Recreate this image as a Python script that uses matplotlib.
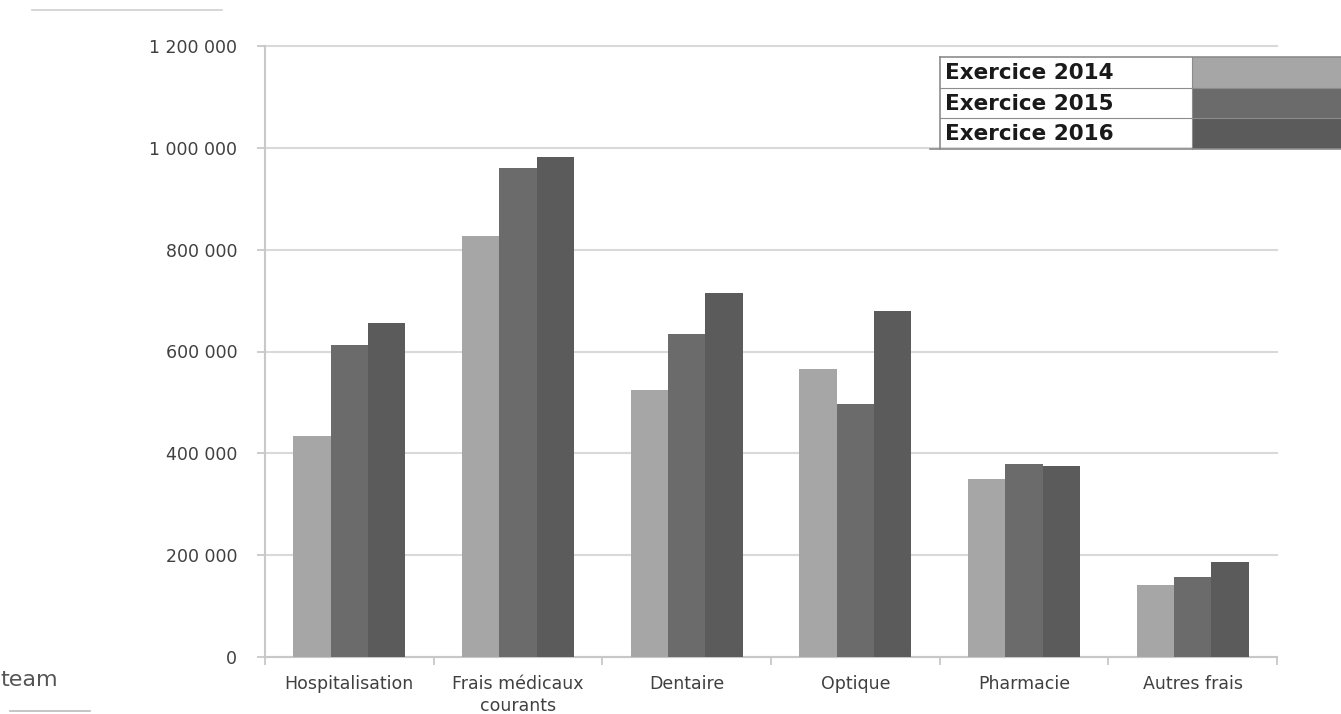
import numpy as np
import matplotlib.pyplot as plt
from matplotlib.patches import Rectangle
from matplotlib.lines import Line2D
from matplotlib.ticker import FuncFormatter, FixedLocator, NullFormatter

categories = ['Hospitalisation', 'Frais médicaux\ncourants', 'Dentaire',
              'Optique', 'Pharmacie', 'Autres frais']
series_names = ['Exercice 2014', 'Exercice 2015', 'Exercice 2016']
vals_2014 = [434000, 826000, 525000, 565000, 350000, 142000]
vals_2015 = [612000, 960000, 634000, 496000, 380000, 158000]
vals_2016 = [656000, 982000, 714000, 680000, 376000, 186000]
colors = ['#a6a6a6', '#6b6b6b', '#5b5b5b']

W, H = 1341, 714
fig = plt.figure(figsize=(W / 100, H / 100), dpi=100)
ax = fig.add_axes([265 / W, 1 - 657 / H, (1277 - 265) / W, (657 - 46) / H])

x = np.arange(len(categories))
bw = 0.222
for i, vals in enumerate([vals_2014, vals_2015, vals_2016]):
    ax.bar(x + (i - 1) * bw, vals, width=bw, color=colors[i], zorder=3,
           linewidth=0)

ax.set_xlim(-0.5, len(categories) - 0.5)
ax.set_ylim(0, 1200000)
ax.set_yticks(np.arange(0, 1200001, 200000))
ax.yaxis.set_major_formatter(FuncFormatter(lambda v, p: f'{int(v):,}'.replace(',', ' ')))
ax.grid(axis='y', color='#d9d9d9', linewidth=1.5, zorder=0)
for gl in ax.get_ygridlines():
    gl.set_clip_on(False)

# category labels centred, tick marks on the boundaries
ax.xaxis.set_major_locator(FixedLocator(np.arange(-0.5, len(categories), 1)))
ax.xaxis.set_major_formatter(NullFormatter())
ax.xaxis.set_minor_locator(FixedLocator(x))
ax.set_xticklabels(categories, minor=True, linespacing=1.25)
ax.tick_params(axis='x', which='minor', length=0, pad=13, labelsize=12.5,
               labelcolor='#404040')
ax.tick_params(axis='x', which='major', length=6, color='#c8c8c8', width=1.3)
ax.tick_params(axis='y', length=6, color='#c8c8c8', width=1.3, labelsize=12.5,
               labelcolor='#404040', pad=14)

for side in ['top', 'right']:
    ax.spines[side].set_visible(False)
for side in ['left', 'bottom']:
    ax.spines[side].set_color('#c8c8c8')
    ax.spines[side].set_linewidth(1.5)


def fx(px):
    return px / W


def fy(py):
    return 1 - py / H


# legend drawn as a small table in the top-right corner
row_top = 57
row_h = 30.5
for i, name in enumerate(series_names):
    y0 = row_top + i * row_h
    fig.add_artist(Rectangle((fx(1192), fy(y0 + row_h)), fx(1400) - fx(1192),
                             row_h / H, facecolor=colors[i], edgecolor='none',
                             transform=fig.transFigure))
    fig.text(fx(945), fy(y0 + row_h / 2 + 1), name, fontsize=15.5,
             fontweight='bold', color='#1a1a1a', va='center', ha='left')
for i in range(4):
    yl = row_top + i * row_h
    x_start = 930 if i == 3 else 940
    fig.add_artist(Line2D([fx(x_start), 1], [fy(yl), fy(yl)], color='#8c8c8c',
                          linewidth=1.2 if i in (0, 3) else 0.8))
fig.add_artist(Line2D([fx(940), fx(940)], [fy(row_top), fy(row_top + 3 * row_h)],
                      color='#8c8c8c', linewidth=1.2))
fig.add_artist(Line2D([fx(1192), fx(1192)], [fy(row_top), fy(row_top + 3 * row_h)],
                      color='#8c8c8c', linewidth=0.8))

# page fragments around the chart
fig.add_artist(Line2D([fx(32), fx(222)], [fy(10), fy(10)], color='#d0d0d0',
                      linewidth=1.2))
fig.text(fx(0), fy(680), 'team', fontsize=16, color='#555555', va='center',
         ha='left')
fig.add_artist(Line2D([fx(10), fx(90)], [fy(711), fy(711)], color='#bbbbbb',
                      linewidth=1.2))

fig.savefig('out.png', dpi=100)
